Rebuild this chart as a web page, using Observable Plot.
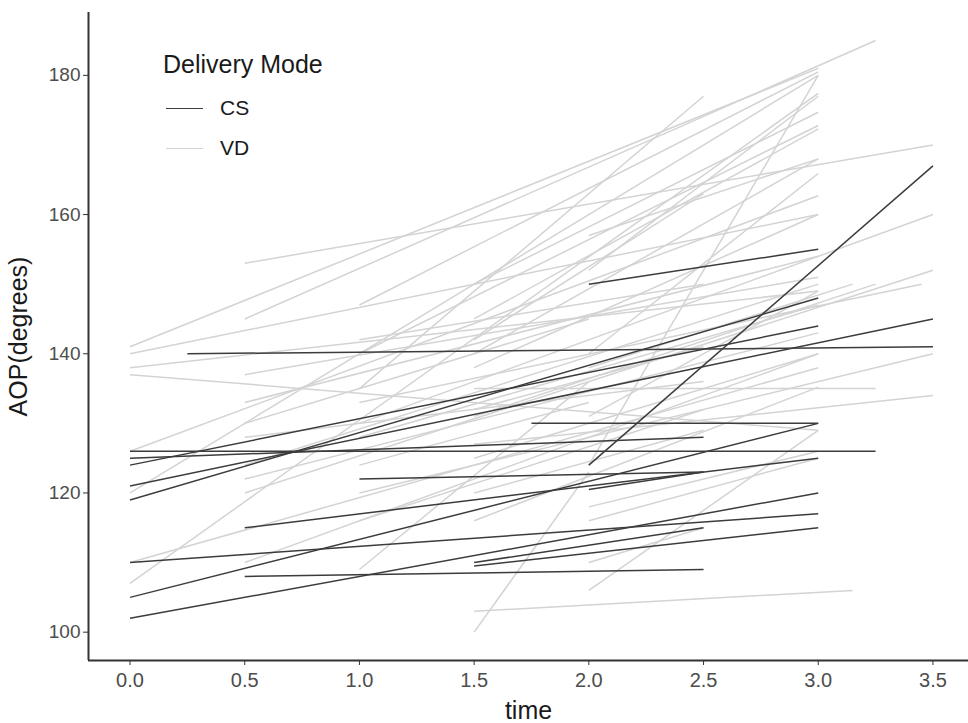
<!DOCTYPE html>
<html>
<head>
<meta charset="utf-8">
<script src="https://cdn.jsdelivr.net/npm/d3@7"></script>
<script src="https://cdn.jsdelivr.net/npm/@observablehq/plot@0.6"></script>
<style>
  html, body { margin: 0; padding: 0; background: #ffffff; }
  body { font-family: "Liberation Sans", Arial, sans-serif; }
  #wrap { position: relative; width: 968px; height: 723px; overflow: hidden; }
  #legend { position: absolute; left: 163px; top: 49px; color: #1a1a1a; }
  #legend .title { font-size: 25px; line-height: 30px; white-space: nowrap; }
  #legend .row { position: relative; height: 40px; }
  #legend .key { position: absolute; left: 3px; width: 37px; height: 0; }
  #legend .lab { position: absolute; left: 57px; font-size: 21px; line-height: 24px; }
</style>
</head>
<body>
<div id="wrap"></div>
<script>
// Delivery mode groups: each segment is [startTime, startAOP, endTime, endAOP]
const modes = ["CS", "VD"];
const modeColors = ["#3c3c3c", "#d3d3d3"];

const csLines = [
  [0, 102, 3, 120],
  [0, 105, 3, 130],
  [0, 110, 3, 117],
  [0.5, 115, 3, 125],
  [0.5, 108, 2.5, 109],
  [1.5, 110, 2.5, 115],
  [1.5, 109.5, 3, 115],
  [1, 122, 2.5, 123],
  [2, 120.5, 2.5, 123],
  [0, 126, 3.25, 126],
  [0, 125, 2.5, 128],
  [0, 124, 3, 144],
  [0, 121, 3.5, 145],
  [0, 119, 3, 148],
  [0.25, 140, 3.5, 141],
  [1.75, 130, 3, 130],
  [2, 150, 3, 155],
  [2, 124, 3.5, 167]
];

const vdLines = [
  [0, 141, 3, 181],
  [0, 140, 3, 160],
  [0, 138, 3, 149],
  [0, 137, 3, 129],
  [0, 126, 3, 162.7],
  [0, 120, 3, 180],
  [0, 107, 3, 177.4],
  [0, 110, 3, 138],
  [0.5, 153, 3.5, 170],
  [0.5, 145, 3.25, 185],
  [0.5, 133, 3, 154],
  [0.5, 124, 3, 150],
  [0.5, 120, 3.5, 152],
  [0.5, 122, 3, 143],
  [0.5, 110, 3, 140],
  [0.5, 137, 3, 151],
  [0.5, 128, 2.5, 136],
  [0.5, 130, 2, 145],
  [1, 135, 2.5, 177],
  [1, 133, 3.45, 150],
  [1, 130, 3.5, 160],
  [1, 120, 3.5, 140],
  [1, 116, 2.5, 132],
  [1, 109, 2, 136],
  [1, 147, 3, 180.5],
  [1, 140, 3, 172.8],
  [1, 128, 3, 147],
  [1, 142, 2.5, 150],
  [1, 124, 2, 133],
  [1.5, 116, 3, 135.2],
  [1.5, 103, 3.15, 106],
  [1.5, 100, 2, 123],
  [1.5, 127, 3.5, 134],
  [1.5, 135, 3.25, 135],
  [1.5, 131, 3.25, 150],
  [1.5, 150, 3, 174.7],
  [1.5, 145, 3, 172.3],
  [1.5, 140, 3, 168],
  [1.5, 138, 3, 160],
  [1.5, 132, 2.5, 141],
  [1.5, 125, 3, 140],
  [1.5, 142, 2.5, 163],
  [1.5, 120, 2.5, 129],
  [2, 106, 3, 129],
  [2, 110, 2.5, 115],
  [2, 116, 3, 125],
  [2, 138, 3.15, 150],
  [2, 157, 3, 168],
  [2, 124, 3, 180],
  [2, 140, 3, 165.9],
  [2, 131, 3, 149],
  [2, 152, 3, 177],
  [2, 118, 3, 126]
];

const xTicks = [0, 0.5, 1, 1.5, 2, 2.5, 3, 3.5];
const yTicks = [100, 120, 140, 160, 180];
const xDomain = [-0.181, 3.655];
const yDomain = [95.93, 189.03];

const toRows = (lines, mode) => lines.map(([t1, v1, t2, v2]) => ({mode, t1, v1, t2, v2}));
const rows = [...toRows(vdLines, "VD"), ...toRows(csLines, "CS")];

const chart = Plot.plot({
  width: 968,
  height: 723,
  marginLeft: 88,
  marginRight: 0,
  marginTop: 12,
  marginBottom: 63,
  style: { fontFamily: "'Liberation Sans', Arial, sans-serif", background: "#ffffff" },
  x: { domain: xDomain, axis: null },
  y: { domain: yDomain, axis: null },
  color: { domain: modes, range: modeColors },
  marks: [
    Plot.link(rows, {
      x1: "t1", y1: "v1", x2: "t2", y2: "v2",
      stroke: "mode", strokeWidth: 1.5, strokeLinecap: "butt"
    }),
    Plot.ruleX([xDomain[0]], { stroke: "#333333", strokeWidth: 2 }),
    Plot.ruleY([yDomain[0]], { stroke: "#333333", strokeWidth: 2 }),
    Plot.axisX(xTicks, {
      tickSize: 5, tickPadding: 7, fontSize: 20, stroke: "#333333", fill: "#4d4d4d",
      tickFormat: d => d.toFixed(1), label: null
    }),
    Plot.axisY(yTicks, {
      tickSize: 5, tickPadding: 3, fontSize: 19, stroke: "#333333", fill: "#4d4d4d",
      label: null
    }),
    Plot.text(["time"], { frameAnchor: "bottom", dy: 50, fontSize: 25, fill: "#1a1a1a", textAnchor: "middle", lineAnchor: "middle" }),
    Plot.text(["AOP(degrees)"], { frameAnchor: "left", dx: -70, rotate: -90, fontSize: 25, fill: "#1a1a1a", textAnchor: "middle", lineAnchor: "middle" })
  ]
});

const wrap = document.getElementById("wrap");
wrap.appendChild(chart);

const legend = document.createElement("div");
legend.id = "legend";
legend.innerHTML = `<div class="title">Delivery Mode</div>` +
  modes.map((m, i) => `<div class="row" style="top:16px">
     <div class="key" style="top:13px;border-top:1.5px solid ${modeColors[i]}"></div>
     <div class="lab" style="top:1px">${m}</div></div>`).join("");
wrap.appendChild(legend);
</script>
</body>
</html>
